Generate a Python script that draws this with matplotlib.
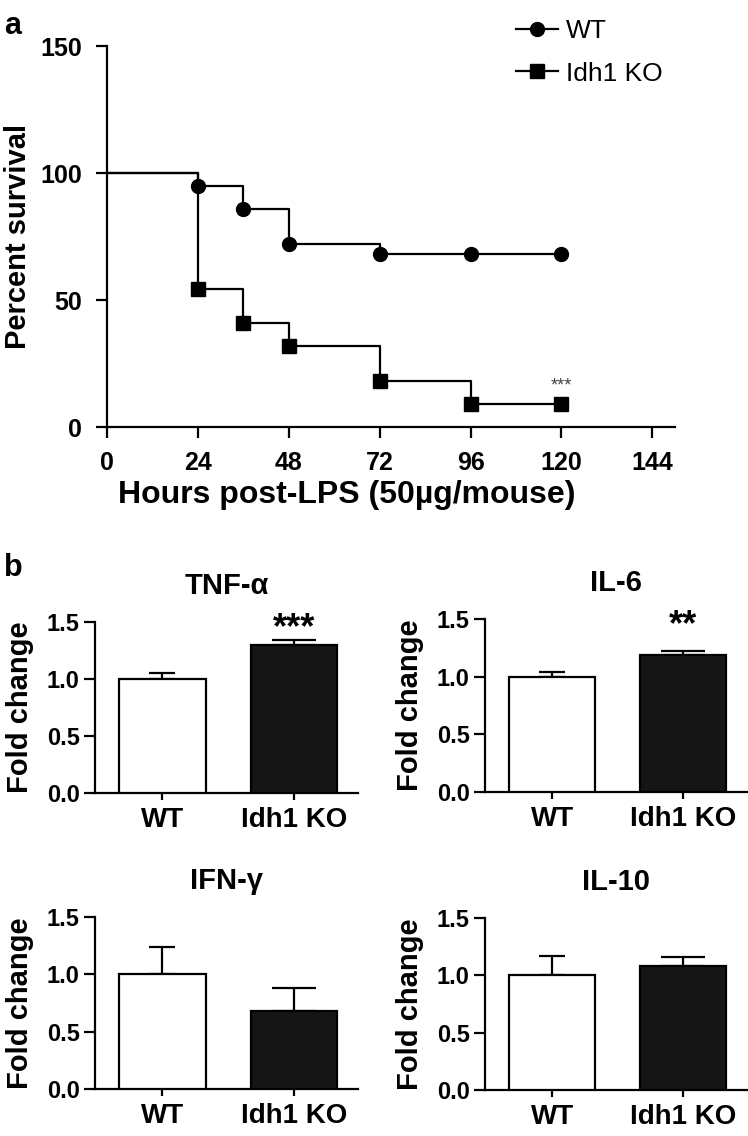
import matplotlib
matplotlib.use("Agg")
import matplotlib.pyplot as plt
from matplotlib.lines import Line2D

plt.rcParams['font.family'] = ['Liberation Sans', 'DejaVu Sans']

# -------- DATA --------
hours = [0, 24, 36, 48, 72, 96, 120]
wt_surv = [100, 95, 86, 72, 68, 68, 68]
ko_surv = [100, 54.5, 41, 32, 18, 9, 9]

groups = ['WT', 'Idh1 KO']
cytokines = ['TNF-\u03b1', 'IL-6', 'IFN-\u03b3', 'IL-10']
cyt_mean = {
    'TNF-\u03b1': [1.0, 1.30],
    'IL-6': [1.0, 1.19],
    'IFN-\u03b3': [1.0, 0.68],
    'IL-10': [1.0, 1.08],
}
cyt_err = {
    'TNF-\u03b1': [0.05, 0.04],
    'IL-6': [0.04, 0.03],
    'IFN-\u03b3': [0.24, 0.20],
    'IL-10': [0.17, 0.08],
}
cyt_sig = {'TNF-\u03b1': '***', 'IL-6': '**', 'IFN-\u03b3': '', 'IL-10': ''}

LW = 1.6

fig = plt.figure(figsize=(7.48, 11.36), dpi=100)

# -------- PANEL a: survival --------
ax = fig.add_axes([0.1430, 0.6241, 0.7594, 0.3354])
ax.step(hours, wt_surv, where='post', color='black', lw=LW)
ax.step(hours, ko_surv, where='post', color='black', lw=LW)
ax.plot(hours[1:], wt_surv[1:], 'o', color='black', ms=10, clip_on=False)
ax.plot(hours[1:], ko_surv[1:], 's', color='black', ms=10, clip_on=False)
ax.text(120, 13, '***', ha='center', va='bottom', fontsize=13, color='#444444')

ax.set_xlim(0, 150)
ax.set_ylim(0, 150)
ax.set_xticks([0, 24, 48, 72, 96, 120, 144])
ax.set_yticks([0, 50, 100, 150])
for s in ['top', 'right']:
    ax.spines[s].set_visible(False)
for s in ['left', 'bottom']:
    ax.spines[s].set_linewidth(LW)
ax.spines['left'].set_bounds(0, 150)
ax.tick_params(axis='both', direction='out', length=8, width=LW, labelsize=18)
ax.tick_params(axis='x', pad=9)
ax.tick_params(axis='y', pad=10)
for lab in ax.get_xticklabels() + ax.get_yticklabels():
    lab.set_fontweight('bold')
ax.set_xlabel('Hours post-LPS (50\u00b5g/mouse)', fontsize=23, fontweight='bold')
ax.xaxis.set_label_coords(0.423, -0.14)
ax.set_ylabel('Percent survival', fontsize=21, fontweight='bold', labelpad=6)

handles = [
    Line2D([], [], color='black', lw=LW, marker='o', ms=10),
    Line2D([], [], color='black', lw=LW, marker='s', ms=10),
]
fig.legend(handles, groups, loc='upper left', bbox_to_anchor=(0.658, 1.004),
           frameon=False, fontsize=19, handlelength=1.6, handletextpad=0.3,
           labelspacing=0.7)

fig.text(0.005, 0.99, 'a', fontsize=22, fontweight='bold', va='top', ha='left')
fig.text(0.005, 0.513, 'b', fontsize=22, fontweight='bold', va='top', ha='left')

# -------- PANEL b: cytokines --------
positions = [
    [0.1270, 0.3019, 0.3516, 0.1505],
    [0.6484, 0.3028, 0.3503, 0.1523],
    [0.1270, 0.0414, 0.3516, 0.1514],
    [0.6484, 0.0405, 0.3503, 0.1514],
]
xpos = [0, 1]
colors = ['white', '#151515']
capsizes = [9.7, 15.8]

for name, pos in zip(cytokines, positions):
    bx = fig.add_axes(pos)
    means = cyt_mean[name]
    errs = cyt_err[name]
    bx.bar(xpos, means, width=0.66, color=colors, edgecolor='black', linewidth=LW, zorder=3)
    for i in range(2):
        bx.errorbar(xpos[i], means[i], yerr=[[0], [errs[i]]], fmt='none',
                    ecolor='black', elinewidth=LW, capsize=capsizes[i],
                    capthick=LW, zorder=2)
    if cyt_sig[name]:
        bx.text(1, 1.36, cyt_sig[name], ha='center', va='baseline',
                fontsize=26, fontweight='bold', clip_on=False)
    bx.set_xlim(-0.513, 1.487)
    bx.set_ylim(0, 1.5)
    bx.set_yticks([0.0, 0.5, 1.0, 1.5])
    bx.set_yticklabels(['0.0', '0.5', '1.0', '1.5'])
    bx.set_xticks(xpos)
    bx.set_xticklabels(groups)
    for s in ['top', 'right']:
        bx.spines[s].set_visible(False)
    for s in ['left', 'bottom']:
        bx.spines[s].set_linewidth(LW)
    bx.tick_params(axis='y', direction='out', length=8, width=LW, labelsize=17, pad=3)
    bx.tick_params(axis='x', direction='out', length=5, width=LW, labelsize=20, pad=5)
    for lab in bx.get_xticklabels() + bx.get_yticklabels():
        lab.set_fontweight('bold')
    bx.set_ylabel('Fold change', fontsize=21, fontweight='bold', labelpad=9)
    bx.set_title(name, fontsize=21, fontweight='bold', pad=20)

fig.savefig('out.png', dpi=100)
